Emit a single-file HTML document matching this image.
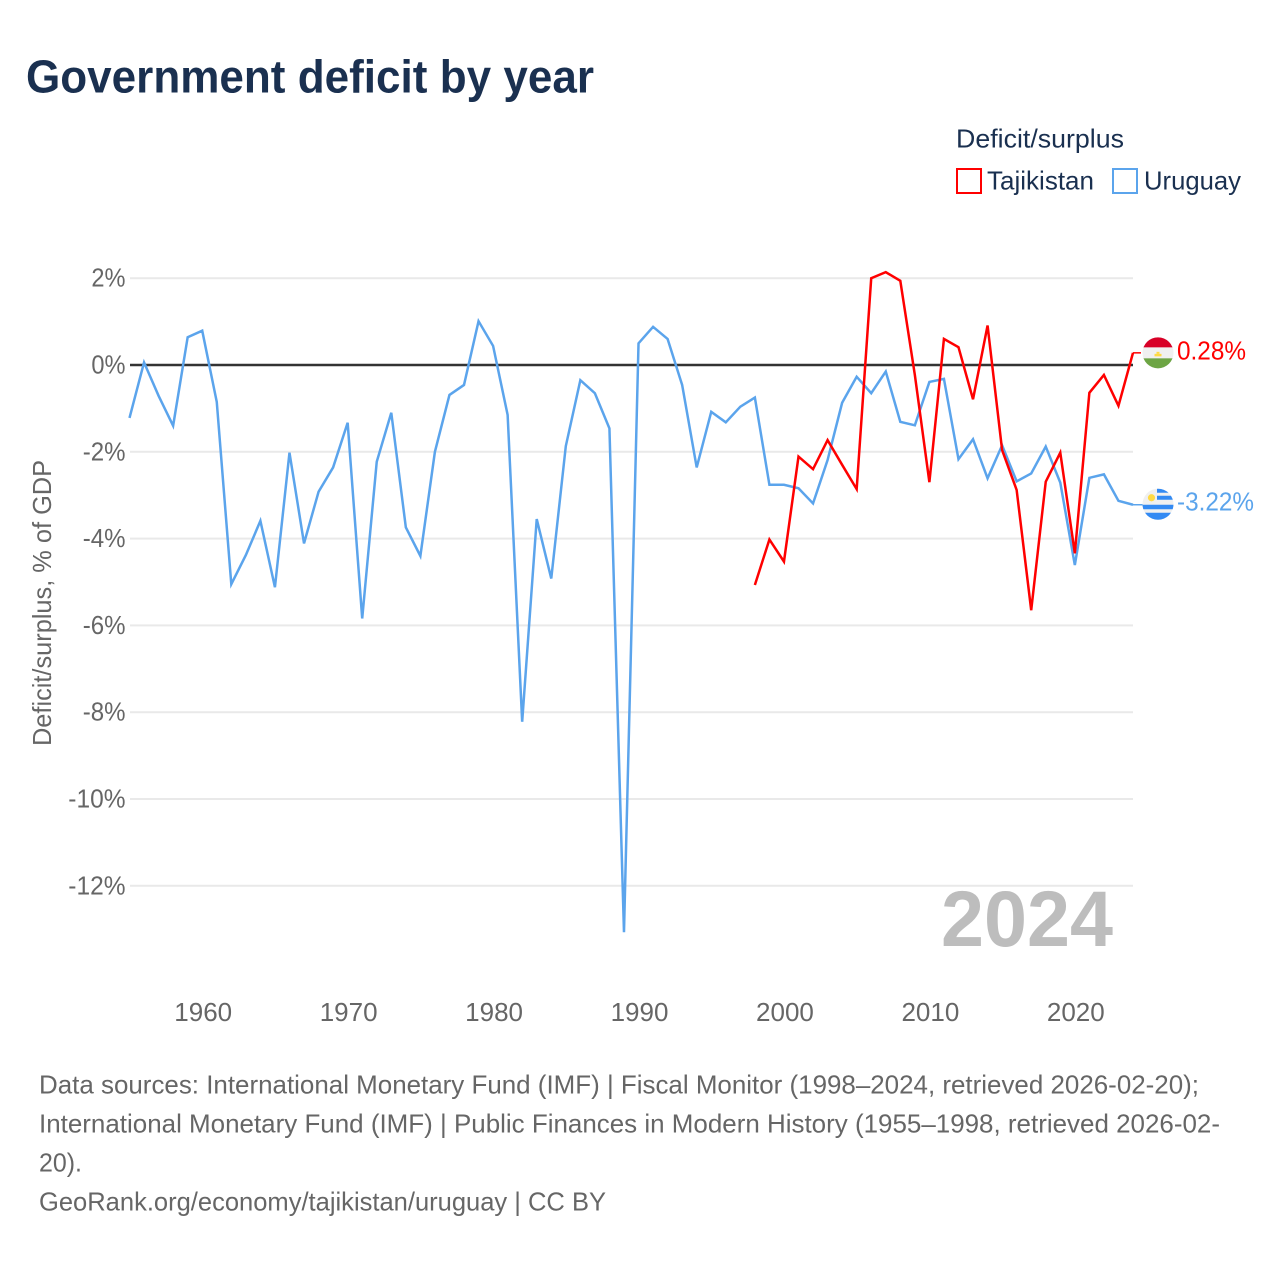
<!DOCTYPE html>
<html lang="en">
<head>
<meta charset="utf-8">
<title>Government deficit by year</title>
<style>
  html, body { margin: 0; padding: 0; background: #fff; }
  svg { display: block; font-family: "Liberation Sans", sans-serif; }
</style>
</head>
<body>
<svg id="chart" xmlns="http://www.w3.org/2000/svg" width="1280" height="1280" viewBox="0 0 1280 1280">
  <defs>
    <clipPath id="flag-clip"><circle cx="0" cy="0" r="15.5"></circle></clipPath>
  </defs>
  <rect x="0" y="0" width="1280" height="1280" fill="#ffffff"></rect>
  <text x="26" y="92.5" font-size="46" font-weight="700" fill="#1a3050" textLength="568" lengthAdjust="spacingAndGlyphs">Government deficit by year</text>

  <g font-size="26" fill="#1a3050">
    <text x="956" y="147.5" textLength="168" lengthAdjust="spacingAndGlyphs">Deficit/surplus</text>
    <g>
      <rect x="957" y="169" width="24" height="24" fill="none" stroke="#ff0000" stroke-width="2"></rect>
      <text x="987" y="189.5" textLength="107" lengthAdjust="spacingAndGlyphs">Tajikistan</text>
    </g>
    <g>
      <rect x="1113" y="169" width="24" height="24" fill="none" stroke="#5ba4ec" stroke-width="2"></rect>
      <text x="1144" y="189.5" textLength="97" lengthAdjust="spacingAndGlyphs">Uruguay</text>
    </g>
  </g>

  <g id="grid"></g>
  <g id="y-ticks" font-size="26" fill="#666666" text-anchor="end"></g>
  <g id="x-ticks" font-size="26" fill="#666666" text-anchor="middle"></g>
  <text transform="translate(51,603) rotate(-90)" font-size="26" fill="#666666" text-anchor="middle" textLength="286" lengthAdjust="spacingAndGlyphs">Deficit/surplus, % of GDP</text>

  <text x="941" y="946" font-size="79" font-weight="700" fill="#bdbdbd" textLength="172" lengthAdjust="spacingAndGlyphs">2024</text>

  <g id="series"></g>

  <g id="flag-tajikistan">
    <g clip-path="url(#flag-clip)">
      <rect x="-16" y="-16" width="32" height="32" fill="#f0f0f0"></rect>
      <rect x="-16" y="-16" width="32" height="10.5" fill="#d80027"></rect>
      <rect x="-16" y="5.5" width="32" height="10.5" fill="#6da544"></rect>
      <rect x="-3.5" y="1" width="7" height="2.5" fill="#ffda44"></rect>
      <rect x="-1.5" y="-1" width="3" height="2" fill="#ffda44"></rect>
    </g>
  </g>
  <g id="flag-uruguay">
    <g clip-path="url(#flag-clip)">
      <rect x="-16" y="-16" width="32" height="32" fill="#f0f0f0"></rect>
      <rect x="-1" y="-16" width="17" height="4.5" fill="#338af3"></rect>
      <rect x="-1" y="-8.5" width="17" height="4" fill="#338af3"></rect>
      <rect x="-16" y="0.5" width="32" height="4.5" fill="#338af3"></rect>
      <rect x="-16" y="8.5" width="32" height="7.5" fill="#338af3"></rect>
      <circle cx="-6.5" cy="-6.5" r="3.6" fill="#ffda44"></circle>
    </g>
  </g>

  <text id="value-tajikistan" x="1177" font-size="26" fill="#ff0000" textLength="69" lengthAdjust="spacingAndGlyphs"></text>
  <text id="value-uruguay" x="1177" font-size="26" fill="#5ba4ec" textLength="77" lengthAdjust="spacingAndGlyphs"></text>

  <g font-size="26" fill="#666666">
    <text x="39" y="1093.5" textLength="1160" lengthAdjust="spacingAndGlyphs">Data sources: International Monetary Fund (IMF) | Fiscal Monitor (1998–2024, retrieved 2026-02-20);</text>
    <text x="39" y="1132.5" textLength="1181" lengthAdjust="spacingAndGlyphs">International Monetary Fund (IMF) | Public Finances in Modern History (1955–1998, retrieved 2026-02-</text>
    <text x="39" y="1171.5" textLength="43" lengthAdjust="spacingAndGlyphs">20).</text>
    <text x="39" y="1210.5" textLength="567" lengthAdjust="spacingAndGlyphs">GeoRank.org/economy/tajikistan/uruguay | CC BY</text>
  </g>
</svg>
<script>
const yTickValues = [2, 0, -2, -4, -6, -8, -10, -12];
const xTickValues = [1960, 1970, 1980, 1990, 2000, 2010, 2020];
const uruguayStartYear = 1955;
const uruguayValues = [
  -1.22, 0.06, -0.71, -1.40, 0.64, 0.79, -0.85, -5.05, -4.38, -3.59,
  -5.12, -2.02, -4.11, -2.92, -2.36, -1.33, -5.84, -2.23, -1.10, -3.74,
  -4.40, -2.00, -0.69, -0.46, 1.01, 0.44, -1.15, -8.22, -3.55, -4.92,
  -1.87, -0.35, -0.65, -1.46, -13.07, 0.50, 0.88, 0.60, -0.46, -2.36,
  -1.08, -1.32, -0.96, -0.75, -2.76, -2.76, -2.84, -3.19, -2.19, -0.87,
  -0.27, -0.65, -0.15, -1.31, -1.39, -0.39, -0.32, -2.17, -1.71, -2.61,
  -1.85, -2.68, -2.50, -1.88, -2.71, -4.61, -2.60, -2.52, -3.13, -3.22
];
const tajikistanStartYear = 1998;
const tajikistanValues = [
  -5.07, -4.02, -4.53, -2.11, -2.40, -1.73, -2.30, -2.86, 2.00, 2.14,
  1.94, -0.23, -2.70, 0.60, 0.41, -0.79, 0.91, -1.96, -2.88, -5.65,
  -2.69, -2.02, -4.34, -0.64, -0.23, -0.94, 0.28
];

const SVG_NS = 'http://www.w3.org/2000/svg';
const RED = '#ff0000';
const BLUE = '#5ba4ec';
const xScale = function (year) { return 129.5 + (year - 1955) * (1133 - 129.5) / 69; };
const yScale = function (value) { return 365 - value * 43.4; };

function make(tag, parent) {
  const el = document.createElementNS(SVG_NS, tag);
  parent.appendChild(el);
  return el;
}

function formatPercent(value) {
  return value.toFixed(2) + '%';
}

const gridGroup = document.getElementById('grid');
const yTickGroup = document.getElementById('y-ticks');
yTickValues.forEach(function (tick) {
  const line = make('line', gridGroup);
  
  
  line.setAttribute('x1', 130);
  line.setAttribute('x2', 1133);
  line.setAttribute('y1', yScale(tick));
  line.setAttribute('y2', yScale(tick));
  line.setAttribute('stroke', tick === 0 ? '#333333' : '#e9e9e9');
  line.setAttribute('stroke-width', tick === 0 ? 2.5 : 2);
  const label = make('text', yTickGroup);
  
  
  label.setAttribute('x', 125.5);
  label.setAttribute('y', yScale(tick) + 8.5);
  label.textContent = tick + '%';
  label.setAttribute('textLength', (label.getComputedTextLength() - 3.5).toFixed(1));
  label.setAttribute('lengthAdjust', 'spacingAndGlyphs');
});

const xTickGroup = document.getElementById('x-ticks');
xTickValues.forEach(function (tick) {
  const label = make('text', xTickGroup);
  
  
  label.setAttribute('x', xScale(tick) + 1);
  label.setAttribute('y', 1021);
  label.textContent = tick;
});

function seriesPoints(values, startYear) {
  return values.map(function (value, i) {
    return xScale(startYear + i).toFixed(2) + ',' + yScale(value).toFixed(2);
  }).join(' ');
}

const seriesGroup = document.getElementById('series');

const uruguayLine = make('polyline', seriesGroup);


uruguayLine.setAttribute('points', seriesPoints(uruguayValues, uruguayStartYear));
uruguayLine.setAttribute('fill', 'none');
uruguayLine.setAttribute('stroke', BLUE);
uruguayLine.setAttribute('stroke-width', 2.5);
uruguayLine.setAttribute('stroke-linejoin', 'miter');

const tajikistanLine = make('polyline', seriesGroup);


tajikistanLine.setAttribute('points', seriesPoints(tajikistanValues, tajikistanStartYear));
tajikistanLine.setAttribute('fill', 'none');
tajikistanLine.setAttribute('stroke', RED);
tajikistanLine.setAttribute('stroke-width', 2.5);
tajikistanLine.setAttribute('stroke-linejoin', 'miter');

const lastX = xScale(2024);
const lastTajikistan = tajikistanValues[tajikistanValues.length - 1];
const lastUruguay = uruguayValues[uruguayValues.length - 1];

const tajikistanLeader = make('line', seriesGroup);


tajikistanLeader.setAttribute('x1', lastX);
tajikistanLeader.setAttribute('x2', lastX + 8);
tajikistanLeader.setAttribute('y1', yScale(lastTajikistan));
tajikistanLeader.setAttribute('y2', yScale(lastTajikistan));
tajikistanLeader.setAttribute('stroke', RED);
tajikistanLeader.setAttribute('stroke-width', 1.5);

const uruguayLeader = make('line', seriesGroup);


uruguayLeader.setAttribute('x1', lastX);
uruguayLeader.setAttribute('x2', lastX + 10);
uruguayLeader.setAttribute('y1', yScale(lastUruguay));
uruguayLeader.setAttribute('y2', yScale(lastUruguay));
uruguayLeader.setAttribute('stroke', BLUE);
uruguayLeader.setAttribute('stroke-width', 1.5);

document.getElementById('flag-tajikistan').setAttribute('transform', 'translate(1158,' + yScale(lastTajikistan) + ')');
document.getElementById('flag-uruguay').setAttribute('transform', 'translate(1158,' + (yScale(lastUruguay) - 0.5) + ')');

const tajikistanValueLabel = document.getElementById('value-tajikistan');
tajikistanValueLabel.setAttribute('y', yScale(lastTajikistan) + 6.5);
tajikistanValueLabel.textContent = formatPercent(lastTajikistan);

const uruguayValueLabel = document.getElementById('value-uruguay');
uruguayValueLabel.setAttribute('y', yScale(lastUruguay) + 6);
uruguayValueLabel.textContent = formatPercent(lastUruguay);
</script>
</body>
</html>
